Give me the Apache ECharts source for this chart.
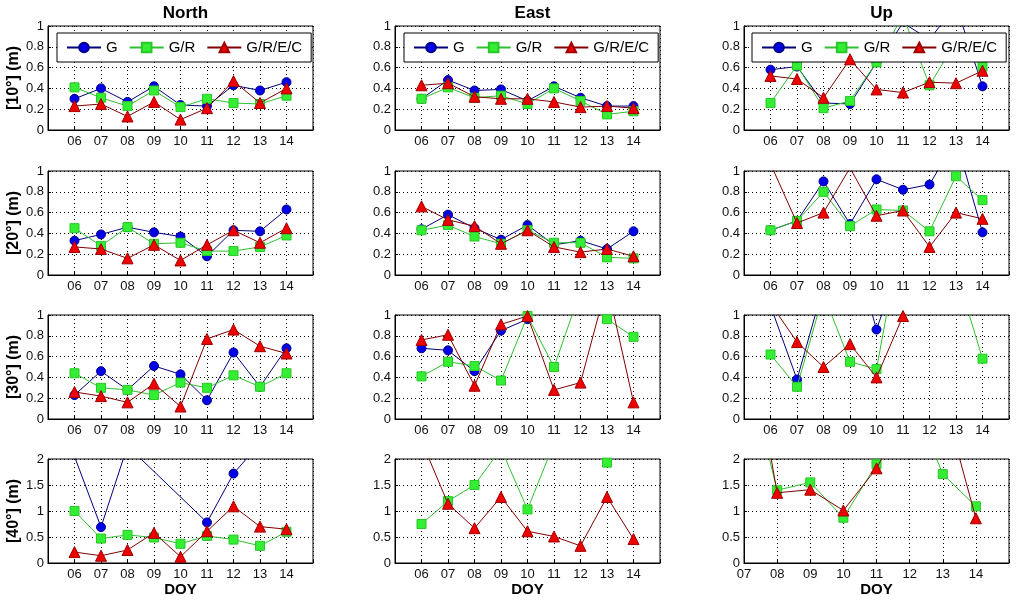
<!DOCTYPE html>
<html>
<head>
<meta charset="utf-8">
<script src="https://cdn.jsdelivr.net/npm/echarts@6/dist/echarts.min.js"></script>
<style>html,body{margin:0;padding:0;background:#fff;}#c{width:1024px;height:602px;}</style>
</head>
<body>
<div id="c"></div>
<script>
// ---- data (DOY 06..14) ----
const days = [6, 7, 8, 9, 10, 11, 12, 13, 14];
const columnTitles = ['North', 'East', 'Up'];
const rowLabels = ['[10°] (m)', '[20°] (m)', '[30°] (m)', '[40°] (m)'];
const seriesNames = ['G', 'G/R', 'G/R/E/C'];
const yMaxByRow = [1, 1, 1, 2];
const yStepByRow = [0.2, 0.2, 0.2, 0.5];

// 10 deg
const north10_G    = [0.30, 0.40, 0.27, 0.42, 0.24, 0.23, 0.43, 0.38, 0.46];
const north10_GR   = [0.41, 0.31, 0.23, 0.38, 0.22, 0.30, 0.26, 0.25, 0.33];
const north10_GREC = [0.23, 0.25, 0.13, 0.27, 0.10, 0.21, 0.47, 0.26, 0.40];
const east10_G     = [0.30, 0.48, 0.38, 0.39, 0.28, 0.42, 0.31, 0.23, 0.23];
const east10_GR    = [0.30, 0.41, 0.31, 0.33, 0.25, 0.40, 0.28, 0.15, 0.18];
const east10_GREC  = [0.43, 0.45, 0.32, 0.30, 0.30, 0.27, 0.22, 0.23, 0.21];
const up10_G       = [0.58, 0.61, 0.26, 0.25, 0.65, 1.03, 0.87, 1.20, 0.42];
const up10_GR      = [0.26, 0.62, 0.21, 0.28, 0.65, 1.10, 0.43, 0.85, 0.61];
const up10_GREC    = [0.52, 0.49, 0.31, 0.68, 0.39, 0.36, 0.46, 0.45, 0.57];
// 20 deg
const north20_G    = [0.33, 0.39, 0.46, 0.41, 0.37, 0.18, 0.43, 0.42, 0.63];
const north20_GR   = [0.45, 0.28, 0.46, 0.30, 0.31, 0.23, 0.23, 0.27, 0.38];
const north20_GREC = [0.27, 0.25, 0.16, 0.29, 0.14, 0.29, 0.43, 0.31, 0.45];
const east20_G     = [0.44, 0.58, 0.45, 0.34, 0.48, 0.29, 0.33, 0.25, 0.42];
const east20_GR    = [0.43, 0.48, 0.37, 0.30, 0.43, 0.31, 0.31, 0.17, 0.16];
const east20_GREC  = [0.66, 0.53, 0.47, 0.30, 0.43, 0.27, 0.22, 0.25, 0.18];
const up20_G       = [0.43, 0.52, 0.90, 0.49, 0.92, 0.82, 0.87, 1.30, 0.41];
const up20_GR      = [0.43, 0.52, 0.80, 0.47, 0.63, 0.62, 0.42, 0.95, 0.72];
const up20_GREC    = [1.07, 0.50, 0.60, 1.03, 0.57, 0.62, 0.27, 0.60, 0.54];
// 30 deg
const north30_G    = [0.23, 0.46, 0.28, 0.51, 0.43, 0.18, 0.64, 0.31, 0.68];
const north30_GR   = [0.44, 0.30, 0.28, 0.23, 0.35, 0.30, 0.42, 0.31, 0.44];
const north30_GREC = [0.26, 0.22, 0.16, 0.34, 0.12, 0.77, 0.86, 0.70, 0.63];
const east30_G     = [0.68, 0.66, 0.46, 0.85, 0.96, 1.50, 1.60, 1.50, 1.40];
const east30_GR    = [0.41, 0.55, 0.51, 0.37, 0.99, 0.50, 1.23, 0.96, 0.79];
const east30_GREC  = [0.76, 0.81, 0.32, 0.91, 0.99, 0.28, 0.35, 1.30, 0.16];
const up30_G       = [1.09, 0.38, 1.28, 1.77, 0.86, 1.59, 1.80, 1.60, 1.50];
const up30_GR      = [0.62, 0.31, 1.20, 0.55, 0.48, 1.86, 1.60, 1.42, 0.58];
const up30_GREC    = [1.11, 0.74, 0.50, 0.72, 0.40, 0.99, 1.30, 1.50, 1.20];
// 40 deg
const north40_G    = [2.05, 0.69, 2.25, null, null, 0.78, 1.72, 2.30, 2.60];
const north40_GR   = [1.00, 0.47, 0.54, 0.49, 0.37, 0.52, 0.45, 0.33, 0.60];
const north40_GREC = [0.21, 0.14, 0.25, 0.58, 0.12, 0.61, 1.09, 0.70, 0.65];
const east40_G     = [3.00, 3.20, 2.90, 3.40, 3.10, 2.80, 3.30, 3.00, 2.90];
const east40_GR    = [0.75, 1.19, 1.50, 2.20, 1.03, 2.30, 2.60, 1.93, 2.80];
const east40_GREC  = [2.35, 1.14, 0.67, 1.27, 0.61, 0.51, 0.33, 1.27, 0.46];
const up40_G       = [null, 3.50, 3.00, 2.80, 3.20, 2.90, 3.10, 3.30, 2.70];
const up40_GR      = [null, 4.00, 1.40, 1.55, 0.87, 1.90, 3.30, 1.71, 1.09];
const up40_GREC    = [null, 5.00, 1.35, 1.41, 1.01, 1.82, 3.00, 3.20, 0.86];

const panels = [
  [north10_G, north10_GR, north10_GREC], [east10_G, east10_GR, east10_GREC], [up10_G, up10_GR, up10_GREC],
  [north20_G, north20_GR, north20_GREC], [east20_G, east20_GR, east20_GREC], [up20_G, up20_GR, up20_GREC],
  [north30_G, north30_GR, north30_GREC], [east30_G, east30_GR, east30_GREC], [up30_G, up30_GR, up30_GREC],
  [north40_G, north40_GR, north40_GREC], [east40_G, east40_GR, east40_GREC], [up40_G, up40_GR, up40_GREC]
];

// ---- layout / style ----
const colLeft = [48, 395, 744];
const rowTop = [26, 171, 315, 459];
const gw = 265, gh = 104;
const FONT = 'Liberation Sans, Arial, sans-serif';
const styles = [
  { symbol: 'circle', symbolSize: 9, itemStyle: { color: '#0000e6', borderColor: '#00008b', borderWidth: 1 }, lineStyle: { color: '#00007a', width: 1 } },
  { symbol: 'rect', symbolSize: 9, itemStyle: { color: '#33ee33', borderColor: '#28c828', borderWidth: 1 }, lineStyle: { color: '#30c030', width: 1 } },
  { symbol: 'triangle', symbolSize: 11, itemStyle: { color: '#ee0000', borderColor: '#a00000', borderWidth: 1 }, lineStyle: { color: '#800000', width: 1 } }
];

const grids = [], xAxes = [], yAxes = [], series = [], titles = [], legends = [];
const pad2 = v => (v < 10 ? '0' : '') + v;

for (let r = 0; r < 4; r++) {
  for (let c = 0; c < 3; c++) {
    const i = r * 3 + c;
    grids.push({ left: colLeft[c], top: rowTop[r], width: gw, height: gh, show: true, borderColor: '#000', borderWidth: 1, backgroundColor: '#fff' });
    const xmin = (r === 3 && c === 2) ? 7 : 5;
    xAxes.push({
      type: 'value', gridIndex: i, min: xmin, max: 15, interval: 1,
      axisLine: { show: true, onZero: false, lineStyle: { color: '#000' } },
      axisTick: { show: true, inside: true, length: 3, lineStyle: { color: '#000' } },
      axisLabel: { color: '#111', fontFamily: FONT, fontSize: 13, margin: 5,
        formatter: v => (v >= (xmin === 7 ? 7 : 6) && v <= 14) ? pad2(v) : '' },
      splitLine: { show: true, lineStyle: { color: '#000', type: [1, 3], width: 1 } },
      name: r === 3 ? 'DOY' : '', nameLocation: 'middle', nameGap: 19,
      nameTextStyle: { fontFamily: FONT, fontSize: 15, fontWeight: 'bold', color: '#000' }
    });
    yAxes.push({
      type: 'value', gridIndex: i, min: 0, max: yMaxByRow[r], interval: yStepByRow[r],
      axisLine: { show: true, lineStyle: { color: '#000' } },
      axisTick: { show: true, inside: true, length: 3, lineStyle: { color: '#000' } },
      axisLabel: { color: '#111', fontFamily: FONT, fontSize: 13, margin: 4 },
      splitLine: { show: true, lineStyle: { color: '#000', type: [1, 3], width: 1 } },
      name: c === 0 ? rowLabels[r] : '', nameLocation: 'middle', nameGap: 26, nameRotate: 90,
      nameTextStyle: { fontFamily: FONT, fontSize: 16, fontWeight: 'bold', color: '#000' }
    });
    panels[i].forEach((vals, k) => {
      const data = [];
      days.forEach((d, j) => { if (vals[j] !== null) data.push([d, vals[j]]); });
      series.push(Object.assign({
        type: 'line', name: seriesNames[k], xAxisIndex: i, yAxisIndex: i, data: data,
        clip: true, animation: false, z: 2 + k, showSymbol: true
      }, styles[k]));
    });
  }
}
const titleCenters = colLeft.map(l => l + gw / 2);
columnTitles.forEach((t, c) => titles.push({
  text: t, left: titleCenters[c], top: 0, textAlign: 'center',
  textStyle: { fontFamily: FONT, fontSize: 17, fontWeight: 'bold', color: '#000' }
}));
const legendLeft = [57, 404, 752];
legendLeft.forEach(l => legends.push({
  data: seriesNames, left: l, top: 33, orient: 'horizontal',
  itemWidth: 34, itemHeight: 12, itemGap: 11, selectedMode: false,
  padding: [7, 9, 7, 9], backgroundColor: '#fff', borderColor: '#000', borderWidth: 1,
  textStyle: { fontFamily: FONT, fontSize: 15, color: '#000' }
}));

const chart = echarts.init(document.getElementById('c'), null, { renderer: 'canvas' });
chart.setOption({
  backgroundColor: '#fff', animation: false,
  title: titles, legend: legends, grid: grids, xAxis: xAxes, yAxis: yAxes, series: series
});
</script>
</body>
</html>
